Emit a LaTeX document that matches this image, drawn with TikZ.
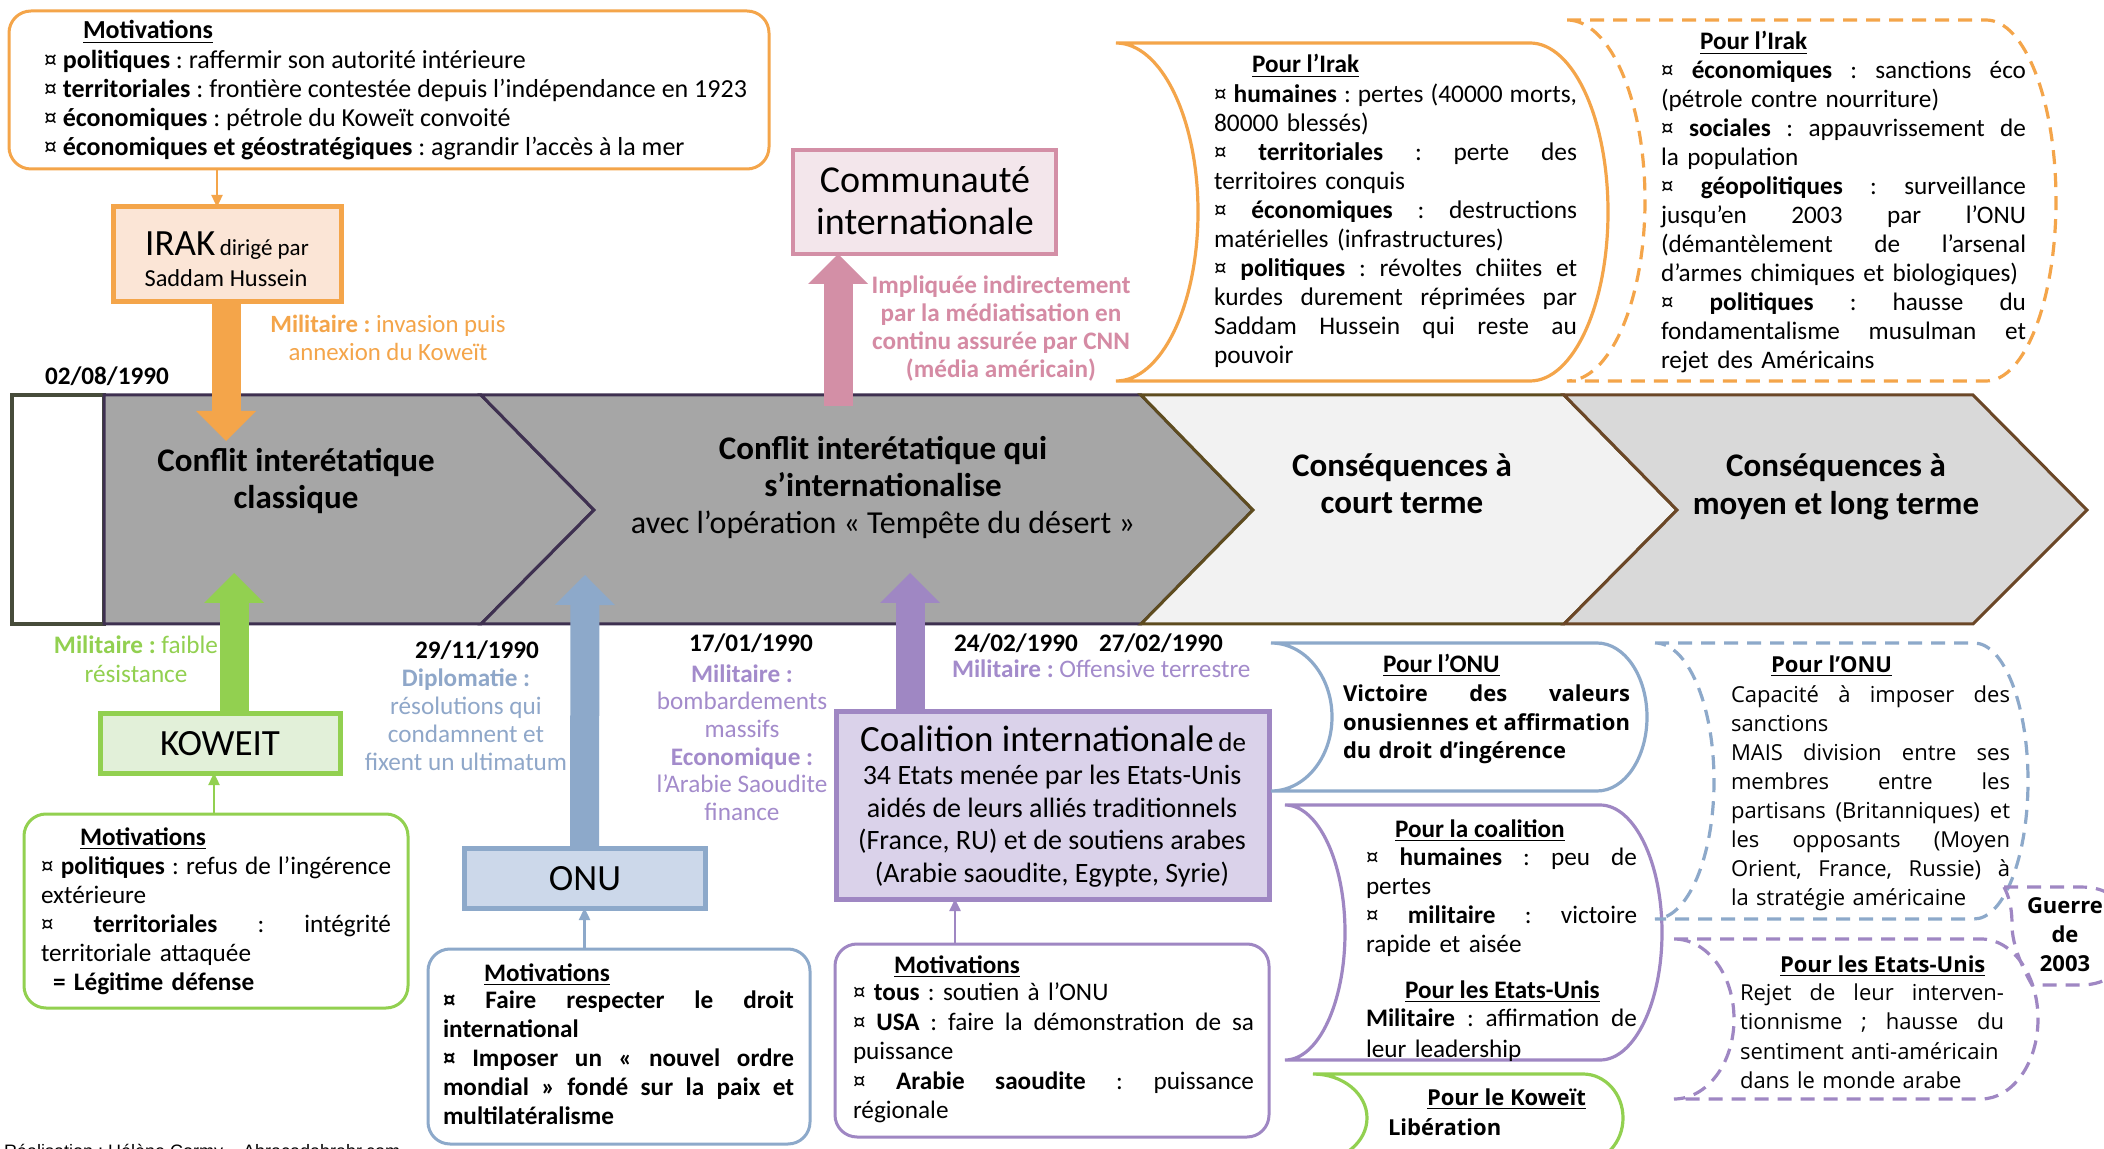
\documentclass[tikz,border=0pt]{standalone}
\usepackage{fontspec}
\setmainfont{Carlito}
\newfontfamily\osans{Open Sans}
\newfontfamily\lsans{Liberation Sans}
\usetikzlibrary{arrows.meta}
\frenchspacing
\definecolor{orng}{HTML}{F4A54A}
\definecolor{orngfill}{HTML}{FBE5D6}
\definecolor{pnk}{HTML}{D38FA6}
\definecolor{pnkfill}{HTML}{F3E6EB}
\definecolor{pnktxt}{HTML}{D58BA4}
\definecolor{grn}{HTML}{92D050}
\definecolor{grnfill}{HTML}{E2F0D9}
\definecolor{blu}{HTML}{8DA9CA}
\definecolor{blufill}{HTML}{CCD8EA}
\definecolor{blutxt}{HTML}{8FA7C9}
\definecolor{prp}{HTML}{9F87C3}
\definecolor{prpfill}{HTML}{DAD2EA}
\definecolor{prptxt}{HTML}{A38BCB}
\definecolor{chA}{HTML}{A6A6A6}
\definecolor{chB}{HTML}{F2F2F2}
\definecolor{chC}{HTML}{D9D9D9}
\definecolor{lnA}{HTML}{3E3050}
\definecolor{lnB}{HTML}{5E4C1F}
\definecolor{lnC}{HTML}{6B4727}
\definecolor{boxln}{HTML}{474C3A}
\newcommand{\jl}[1]{\makebox[\hsize][s]{\spaceskip=\fontdimen2\font plus 1fil\relax\xspaceskip=\spaceskip #1}}
\newcommand{\scrollshape}[7]{%
  \pgfmathsetmacro{\scYm}{(#3+#4)/2}%
  \pgfmathsetmacro{\scH}{0.5523*(#4-#3)/2}%
  \draw[#1] (#2,#3) -- (#6,#3)
    .. controls ({#6+0.5523*#7},#3) and ({#6+#7},{\scYm-\scH}) .. ({#6+#7},\scYm)
    .. controls ({#6+#7},{\scYm+\scH}) and ({#6+0.5523*#7},#4) .. (#6,#4)
    -- (#2,#4)
    .. controls ({#2+0.5523*#5},#4) and ({#2+#5},{\scYm+\scH}) .. ({#2+#5},\scYm)
    .. controls ({#2+#5},{\scYm-\scH}) and ({#2+0.5523*#5},#3) .. (#2,#3) -- cycle;}
\begin{document}
\begin{tikzpicture}[x=0.5pt,y=-0.5pt,
  every node/.style={inner sep=0pt, outer sep=0pt},
  body/.style={anchor=north west, align=left, font=\fontsize{12.6}{14.5}\selectfont},
  osbody/.style={anchor=north west, align=left, font=\osans\fontsize{11}{14.5}\selectfont},
  ctitle/.style={anchor=base west, font=\fontsize{12.6}{14.5}\selectfont\bfseries},
  ostitle/.style={anchor=base west, font=\osans\fontsize{11}{14.5}\selectfont\bfseries},
  ann/.style={anchor=north, align=center, font=\fontsize{12.6}{14}\selectfont},
  datelbl/.style={font=\fontsize{12.6}{14}\selectfont\bfseries},
  motbox/.style={draw, rounded corners=11pt, line width=1.5pt},
  actor/.style={draw, line width=2pt},
  bigtxt/.style={anchor=base, font=\fontsize{18.5}{21}\selectfont},
  chtxt/.style={anchor=base, font=\fontsize{16.5}{18.5}\selectfont\bfseries},
  chev/.style={line width=1.5pt, line join=miter},
  scr/.style={line width=1.6pt},
  dsh/.style={line width=1.6pt, dash pattern=on 7pt off 4.5pt},
  thinarr/.style={line width=1.2pt, -{Triangle[width=5.5pt,length=6pt]}},
  bigarr/.style={line width=14.5pt, -{Triangle[width=30pt,length=15pt,line width=0pt]}}]
\useasboundingbox (0,0) rectangle (2104,1149);
\clip (0,0) rectangle (2104,1149);
\fill[white] (0,0) rectangle (2104,1149);

% ---------- band of chevrons ----------
\draw[chev, draw=boxln, fill=white, line width=2pt] (12,395) rectangle (104,624);
\draw[chev, draw=lnA, fill=chA] (104,395) -- (481,395) -- (594,510) -- (481,624) -- (104,624) -- cycle;
\draw[chev, draw=lnA, fill=chA] (481,395) -- (1141,395) -- (1253,510) -- (1141,624) -- (481,624) -- (594,510) -- cycle;
\draw[chev, draw=lnB, fill=chB] (1141,395) -- (1564,395) -- (1677,510) -- (1564,624) -- (1141,624) -- (1253,510) -- cycle;
\draw[chev, draw=lnC, fill=chC] (1564,395) -- (1973,395) -- (2087,510) -- (1973,624) -- (1564,624) -- (1677,510) -- cycle;
\node[chtxt] (ch1a) at (296,472) {Conflit interétatique};
\node[chtxt] (ch1b) at (296,509) {classique};
\node[chtxt] (ch2a) at (883,460) {Conflit interétatique qui};
\node[chtxt] (ch2b) at (883,497) {s’internationalise};
\node[anchor=base, font=\fontsize{16}{18}\selectfont] (ch2c) at (883,534) {avec l’opération « Tempête du désert »};
\node[chtxt] (ch3a) at (1402,477) {Conséquences à};
\node[chtxt] (ch3b) at (1402,514) {court terme};
\node[chtxt] (ch4a) at (1836,477) {Conséquences à};
\node[chtxt] (ch4b) at (1836,515) {moyen et long terme};

% ---------- Irak ----------
\node[motbox, draw=orng, minimum width=380pt, minimum height=79pt] (motI) at (389,90) {};
\node[ctitle, font=\fontsize{13}{14.5}\selectfont\bfseries] (motIt) at (83,39) {\underline{Motivations}};
\node[body, font=\fontsize{13}{14.5}\selectfont] (motItx) at (44,48) {\strut ¤ \textbf{politiques} : raffermir son autorité intérieure\\
¤ \textbf{territoriales} : frontière contestée depuis l’indépendance en 1923\\
¤ \textbf{économiques} : pétrole du Koweït convoité\\
¤ \textbf{économiques et géostratégiques} : agrandir l’accès à la mer};
\node[actor, draw=orng, fill=orngfill, line width=2.5pt, minimum width=114pt, minimum height=47.5pt] (irak) at (227,254.5) {};
\node[anchor=base] (irakL1) at (227,256) {{\fontsize{18.5}{20}\selectfont IRAK} {\fontsize{11.5}{14}\selectfont dirigé par}};
\node[anchor=base, font=\fontsize{12.2}{14}\selectfont] (irakL2) at (226,287) {Saddam Hussein};
\coordinate (xIo) at (217,0);
\draw[thinarr, orng] (motI.south -| xIo) -- (irak.north -| xIo);
\coordinate (xOr) at (226,0);
\coordinate (tipOr) at (226,441);
\draw[bigarr, orng] (irak.south -| xOr) -- (tipOr);
\node[ann, text=orng, font=\fontsize{12.4}{14}\selectfont] (milI) at (388,313) {\strut\textbf{Militaire :} invasion puis\\annexion du Koweït};
\node[datelbl, anchor=base west] (d1) at (45,385) {02/08/1990};

% ---------- Communaute internationale ----------
\node[actor, draw=pnk, fill=pnkfill, minimum width=131.5pt, minimum height=52pt] (comm) at (924.5,202) {};
\node[bigtxt, font=\fontsize{19}{21}\selectfont] (commL1) at (925,193) {Communauté};
\node[bigtxt, font=\fontsize{19}{21}\selectfont] (commL2) at (925,235) {internationale};
\coordinate (pinkS) at (838,406);
\draw[bigarr, pnk] (pinkS) -- (comm.south -| pinkS);
\node[ann, text=pnktxt, font=\fontsize{12.6}{14}\selectfont\bfseries] (pinkT) at (1001,274) {\strut Impliquée indirectement\\par la médiatisation en\\continu assurée par CNN\\(média américain)};

% ---------- Consequences Irak ----------
\scrollshape{orng, scr}{1116}{43}{381}{82}{1530}{78}
\node[ctitle] (irakCTt) at (1252,73) {\underline{Pour l’Irak}};
\node[body, text width=181.5pt, font=\fontsize{12.7}{14.5}\selectfont] (irakCT) at (1214,82) {\strut\jl{¤ \textbf{humaines} : pertes (40000 morts,}\\
80000 blessés)\\
\jl{¤ \textbf{territoriales} : perte des}\\
territoires conquis\\
\jl{¤ \textbf{économiques} : destructions}\\
matérielles (infrastructures)\\
\jl{¤ \textbf{politiques} : révoltes chiites et}\\
\jl{kurdes durement réprimées par}\\
\jl{Saddam Hussein qui reste au}\\
pouvoir};
\scrollshape{orng, dsh}{1567}{20}{381}{78}{1986}{70}
\node[ctitle] (irakMTt) at (1700,50) {\underline{Pour l’Irak}};
\node[body, text width=182.5pt] (irakMT) at (1661,58) {\strut\jl{¤ \textbf{économiques} : sanctions éco}\\
(pétrole contre nourriture)\\
\jl{¤ \textbf{sociales} : appauvrissement de}\\
la population\\
\jl{¤ \textbf{géopolitiques} : surveillance}\\
\jl{jusqu'en 2003 par l’ONU}\\
\jl{(démantèlement de l’arsenal}\\
d’armes chimiques et biologiques)\\
\jl{¤ \textbf{politiques} : hausse du}\\
\jl{fondamentalisme musulman et}\\
rejet des Américains};

% ---------- Koweit ----------
\node[actor, draw=grn, fill=grnfill, line width=2.5pt, minimum width=120pt, minimum height=30pt] (kow) at (220,743) {};
\node[bigtxt] (kowL) at (220,755) {KOWEIT};
\coordinate (xGr) at (234,0);
\coordinate (tipGr) at (234,573);
\draw[bigarr, grn] (kow.north -| xGr) -- (tipGr);
\node[ann, text=grn, font=\fontsize{12.6}{14.5}\selectfont] (milK) at (136,633) {\strut\textbf{Militaire :} faible\\résistance};
\node[motbox, draw=grn, minimum width=192pt, minimum height=97pt] (motK) at (216,911) {};
\coordinate (xKg) at (214,0);
\draw[thinarr, grn] (motK.north -| xKg) -- (kow.south -| xKg);
\node[ctitle] (motKt) at (80,845) {\underline{Motivations}};
\node[body, text width=175pt] (motKtx) at (41,854) {\strut\jl{¤ \textbf{politiques} : refus de l’ingérence}\\
extérieure\\
\jl{¤ \textbf{territoriales} : intégrité}\\
territoriale attaquée\\
\hspace*{6pt}\textbf{= Légitime défense}};

% ---------- ONU ----------
\node[datelbl, anchor=base] (d2) at (477,658) {29/11/1990};
\node[ann, text=blutxt] (diplo) at (466,667) {\strut\textbf{Diplomatie :}\\résolutions qui\\condamnent et\\fixent un ultimatum};
\node[actor, draw=blu, fill=blufill, line width=2.5pt, minimum width=120.5pt, minimum height=30pt] (onu) at (584.5,878) {};
\node[bigtxt] (onuL) at (585,890) {ONU};
\coordinate (tipBl) at (585,575);
\draw[bigarr, blu] (onu.north) -- (tipBl);
\node[motbox, draw=blu, minimum width=191pt, minimum height=97.5pt] (motO) at (619,1046.5) {};
\draw[thinarr, blu] (motO.north -| onu.south) -- (onu.south);
\node[ctitle] (motOt) at (484,981) {\underline{Motivations}};
\node[body, text width=175.5pt, font=\fontsize{12.6}{14.5}\selectfont\bfseries] (motOtx) at (443,988) {\strut\jl{¤ Faire respecter le droit}\\
international\\
\jl{¤ Imposer un « nouvel ordre}\\
\jl{mondial » fondé sur la paix et}\\
multilatéralisme};

% ---------- Coalition ----------
\node[datelbl, anchor=base] (d3) at (751,652) {17/01/1990};
\node[ann, text=prptxt, font=\fontsize{12.6}{13.8}\selectfont] (milC) at (742,663) {\strut\textbf{Militaire :}\\bombardements\\massifs\\\textbf{Economique :}\\l’Arabie Saoudite\\finance};
\node[datelbl, anchor=base west] (d4) at (954,652) {24/02/1990};
\node[datelbl, anchor=base west] (d5) at (1099,652) {27/02/1990};
\node[anchor=base west, text=prptxt, font=\fontsize{12.6}{14}\selectfont] (milC2) at (952,677) {\textbf{Militaire :} Offensive terrestre};
\node[actor, draw=prp, fill=prpfill, line width=2.5pt, minimum width=216.5pt, minimum height=94pt] (coal) at (1052.5,805) {};
\node[anchor=base] (coalL1) at (1053,751) {{\fontsize{18.5}{20}\selectfont Coalition internationale} {\fontsize{13.5}{16}\selectfont de}};
\node[anchor=north, align=center, font=\fontsize{14}{16.25}\selectfont] (coalL2) at (1052,762) {\strut 34 Etats menée par les Etats-Unis\\aidés de leurs alliés traditionnels\\(France, RU) et de soutiens arabes\\(Arabie saoudite, Egypte, Syrie)};
\coordinate (xPr) at (910,0);
\coordinate (tipPr) at (910,573);
\draw[bigarr, prp] (coal.north -| xPr) -- (tipPr);
\node[motbox, draw=prp, minimum width=217pt, minimum height=96.5pt] (motC) at (1052,1040.5) {};
\coordinate (xCp) at (955,0);
\draw[thinarr, prp] (motC.north -| xCp) -- (coal.south -| xCp);
\node[ctitle] (motCt) at (894,973) {\underline{Motivations}};
\node[body, text width=200.5pt, font=\fontsize{12.6}{14.75}\selectfont] (motCtx) at (853,980) {\strut ¤ \textbf{tous} : soutien à l’ONU\\
\jl{¤ \textbf{USA} : faire la démonstration de sa}\\
puissance\\
\jl{¤ \textbf{Arabie saoudite} : puissance}\\
régionale};

% ---------- short-term consequences ----------
\scrollshape{blu, scr}{1271}{643}{791}{61}{1597}{50}
\node[ctitle] (onuCTt) at (1383,672) {\underline{Pour l’ONU}};
\node[osbody, text width=143.5pt, font=\osans\fontsize{11}{14.25}\selectfont\bfseries] (onuCT) at (1343,682) {\strut\jl{Victoire des valeurs}\\
\jl{onusiennes et affirmation}\\
du droit d’ingérence};
\scrollshape{prp, scr}{1285}{805}{1060}{60}{1600}{62}
\node[ctitle] (coalCTt) at (1395,837) {\underline{Pour la coalition}};
\node[body, text width=135.5pt] (coalCT) at (1366,845) {\strut\jl{¤ \textbf{humaines} : peu de}\\
pertes\\
\jl{¤ \textbf{militaire} : victoire}\\
rapide et aisée};
\node[ctitle] (usCTt) at (1405,998) {\underline{Pour les Etats-Unis}};
\node[body, text width=135.5pt, font=\fontsize{12.6}{15.5}\selectfont] (usCT) at (1366,1005) {\strut\jl{\textbf{Militaire} : affirmation de}\\
leur leadership};
\scrollshape{grn, scr}{1313}{1074}{1162}{54}{1583}{40}
\node[ostitle] (kowCTt) at (1427,1105) {\underline{Pour le Koweït}};
\node[ostitle] (kowCT) at (1388,1135) {Libération};

% ---------- long-term consequences ----------
\scrollshape{blu, dsh}{1655}{643}{919}{59}{1974}{54}
\node[ostitle] (onuMTt) at (1771,672) {\underline{Pour l’ONU}};
\node[osbody, text width=139.5pt] (onuMT) at (1731,682) {\strut\jl{Capacité à imposer des}\\
sanctions\\
\jl{MAIS division entre ses}\\
\jl{membres entre les}\\
\jl{partisans (Britanniques) et}\\
\jl{les opposants (Moyen}\\
\jl{Orient, France, Russie) à}\\
la stratégie américaine};
\scrollshape{prp, dsh}{1674}{939}{1099}{60}{1981}{57}
\node[ostitle] (usMTt) at (1780,972) {\underline{Pour les Etats-Unis}};
\node[osbody, text width=132pt, font=\osans\fontsize{11}{14.65}\selectfont] (usMT) at (1740,980) {\strut\jl{Rejet de leur interven-}\\
\jl{tionnisme ; hausse du}\\
sentiment anti-américain\\
dans le monde arabe};
\draw[prp, dsh] (2004,887) -- (2080,887) .. controls (2110,887) and (2125,900) .. (2125,935)
  .. controls (2125,970) and (2110,985) .. (2080,985) -- (2032,985)
  .. controls (2018,960) and (2012,940) .. (2012,925) .. controls (2012,905) and (2008,895) .. (2004,887);
\node[anchor=north, align=center, font=\osans\fontsize{11}{14.5}\selectfont\bfseries] (guerre) at (2065,893) {\strut Guerre\\de\\2003};

% ---------- credit ----------
\node[anchor=base west, font=\lsans\fontsize{9}{11}\selectfont] (credit) at (4,1157) {Réalisation : Hélène Cormy – Abracadabrabr.com};
\end{tikzpicture}
\end{document}
